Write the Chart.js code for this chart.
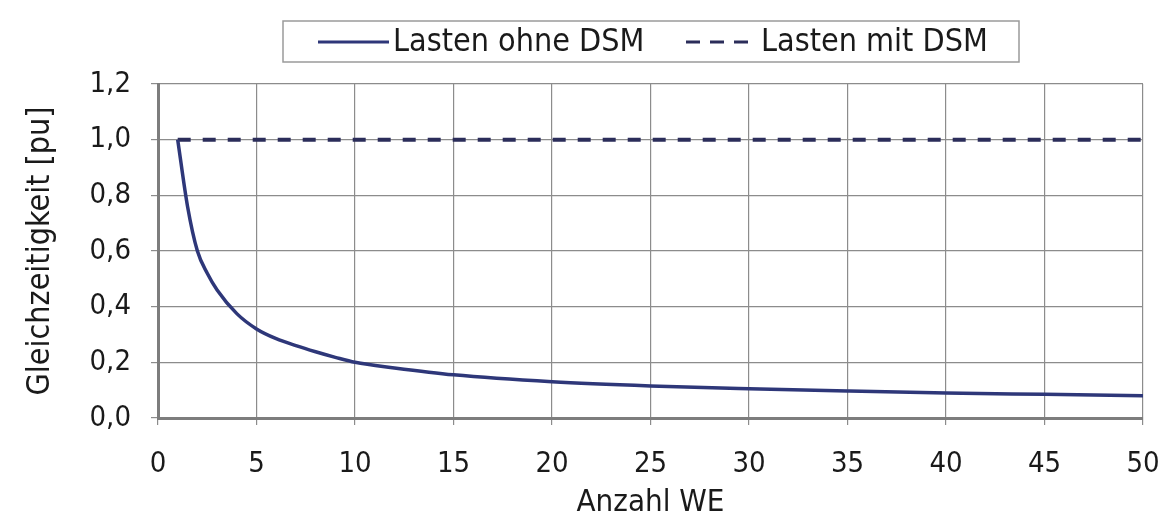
<!DOCTYPE html>
<html>
<head>
<meta charset="utf-8">
<script src="https://cdn.jsdelivr.net/npm/chart.js@4"></script>
<style>
  html, body { margin: 0; padding: 0; background: #fff; }
  #wrap { width: 1163px; height: 517px; }
</style>
</head>
<body>
<div id="wrap"><canvas id="chart" width="1163" height="517"></canvas></div>
<script>
// Anzahl Wohneinheiten (x) and Gleichzeitigkeit (y)
const anzahlWE = [1, 1.5, 2, 2.5, 3, 4, 5, 6, 7, 8, 9, 10, 12, 15, 20, 25, 30, 35, 40, 45, 50];
const ohneDSM = [1.0, 0.76, 0.6, 0.52, 0.46, 0.375, 0.32, 0.285, 0.26, 0.238, 0.218, 0.2, 0.18, 0.155, 0.13, 0.115, 0.105, 0.097, 0.09, 0.085, 0.08];
const mitDSM = [1.0, 1.0, 1.0, 1.0, 1.0, 1.0, 1.0, 1.0, 1.0, 1.0, 1.0, 1.0, 1.0, 1.0, 1.0, 1.0, 1.0, 1.0, 1.0, 1.0, 1.0];
const seriesNames = ['Lasten ohne DSM', 'Lasten mit DSM'];
const yTicks = [0, 0.2, 0.4, 0.6, 0.8, 1.0, 1.2];
const xTicks = [0, 5, 10, 15, 20, 25, 30, 35, 40, 45, 50];

const FONT = '"DejaVu Sans Condensed", "DejaVu Sans", sans-serif';
const gridColor = '#8c8c8c';
const textColor = '#1a1a1a';

// boxed legend like the original
const boxLegend = {
  id: 'boxLegend',
  afterDraw(chart) {
    const ctx = chart.ctx;
    ctx.save();
    ctx.strokeStyle = '#9a9a9a';
    ctx.lineWidth = 1.5;
    ctx.strokeRect(283, 21, 736, 41);
    ctx.font = '32px ' + FONT;
    ctx.fillStyle = textColor;
    ctx.textBaseline = 'middle';
    const items = [
      { x: 318, dash: [], ds: chart.data.datasets[0] },
      { x: 686, dash: [14, 10], ds: chart.data.datasets[1] }
    ];
    items.forEach(it => {
      ctx.strokeStyle = it.ds.borderColor;
      ctx.lineWidth = 3;
      ctx.setLineDash(it.dash);
      ctx.beginPath();
      ctx.moveTo(it.x, 42);
      ctx.lineTo(it.x + 71, 42);
      ctx.stroke();
      ctx.setLineDash([]);
      ctx.fillText(it.ds.label, it.x + 75, 43);
    });
    ctx.restore();
  }
};

new Chart(document.getElementById('chart'), {
  type: 'line',
  data: {
    datasets: [
      {
        label: seriesNames[0],
        data: anzahlWE.map((x, i) => ({ x: x, y: ohneDSM[i] })),
        borderColor: '#2e3779',
        borderWidth: 3.5,
        pointRadius: 0,
        cubicInterpolationMode: 'monotone',
        fill: false
      },
      {
        label: seriesNames[1],
        data: anzahlWE.map((x, i) => ({ x: x, y: mitDSM[i] })),
        borderColor: '#2b2d5a',
        borderWidth: 4,
        borderDash: [13, 12],
        pointRadius: 0,
        fill: false
      }
    ]
  },
  options: {
    responsive: false,
    animation: false,
    layout: { padding: { top: 84, right: 20, left: 0, bottom: 0 } },
    plugins: {
      legend: { display: false },
      tooltip: { enabled: false }
    },
    scales: {
      x: {
        type: 'linear',
        min: 0,
        max: 50,
        afterBuildTicks: s => { s.ticks = xTicks.map(v => ({ value: v })); },
        ticks: { color: textColor, font: { family: FONT, size: 29 }, padding: 22, maxRotation: 0 },
        grid: { color: gridColor, lineWidth: 1.2, tickLength: 7 },
        border: { color: '#7d7d7d', width: 3 },
        title: { display: true, text: 'Anzahl WE', color: textColor, font: { family: FONT, size: 31, lineHeight: 0.9 }, padding: { top: 0, bottom: 0 } },
        afterFit: s => { s.height = 99; s.paddingLeft = 0; s.paddingRight = 0; }
      },
      y: {
        min: 0,
        max: 1.2,
        afterBuildTicks: s => { s.ticks = yTicks.map(v => ({ value: v })); },
        ticks: {
          color: textColor,
          font: { family: FONT, size: 29 },
          padding: 20,
          callback: v => v.toFixed(1).replace('.', ',')
        },
        grid: { color: gridColor, lineWidth: 1.2, tickLength: 7 },
        border: { color: '#7d7d7d', width: 3 },
        title: { display: true, text: 'Gleichzeitigkeit [pu]', color: textColor, font: { family: FONT, size: 32 }, padding: { top: 21, bottom: 0 } },
        afterFit: s => { s.width = 158; }
      }
    }
  },
  plugins: [boxLegend]
});
</script>
</body>
</html>
